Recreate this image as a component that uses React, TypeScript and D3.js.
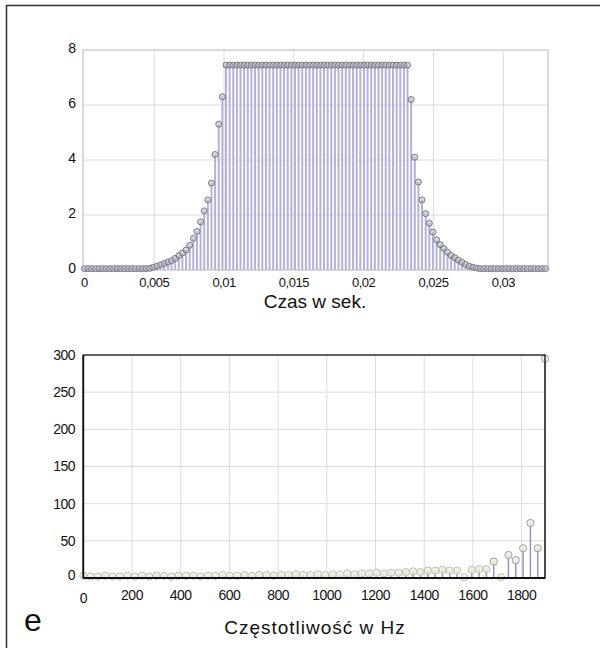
import React from "react";
import * as d3 from "d3";

// ---- Top chart data: sampled signal (time step in seconds) ----
const sampleStep = 0.00026;
const signal: number[] = [
  0.05, 0.05, 0.05, 0.05, 0.05, 0.05, 0.05, 0.05, 0.05, 0.05,
  0.05, 0.05, 0.05, 0.05, 0.05, 0.05, 0.05, 0.05, 0.06, 0.1,
  0.14, 0.19, 0.24, 0.29, 0.34, 0.42, 0.52, 0.62, 0.73, 0.9,
  1.15, 1.4, 1.75, 2.15, 2.55, 3.16, 4.2, 5.3, 6.3, 7.45,
  7.45, 7.45, 7.45, 7.45, 7.45, 7.45, 7.45, 7.45, 7.45, 7.45,
  7.45, 7.45, 7.45, 7.45, 7.45, 7.45, 7.45, 7.45, 7.45, 7.45,
  7.45, 7.45, 7.45, 7.45, 7.45, 7.45, 7.45, 7.45, 7.45, 7.45,
  7.45, 7.45, 7.45, 7.45, 7.45, 7.45, 7.45, 7.45, 7.45, 7.45,
  7.45, 7.45, 7.45, 7.45, 7.45, 7.45, 7.45, 7.45, 7.45, 7.45,
  6.2, 4.1, 3.2, 2.55, 2.05, 1.7, 1.38, 1.1, 0.92, 0.78,
  0.65, 0.53, 0.45, 0.36, 0.28, 0.2, 0.14, 0.1, 0.07, 0.05,
  0.05, 0.05, 0.05, 0.05, 0.05, 0.05, 0.05, 0.05, 0.05, 0.05,
  0.05, 0.05, 0.05, 0.05, 0.05, 0.05, 0.05, 0.05,
];
const timeTicks = [0, 0.005, 0.01, 0.015, 0.02, 0.025, 0.03];
const timeTickLabels = ["0", "0,005", "0,01", "0,015", "0,02", "0,025", "0,03"];
const ampTicks = [0, 2, 4, 6, 8];

// ---- Bottom chart data: spectrum (frequency step in Hz) ----
const freqStep = 30.1;
const spectrum: number[] = [
  3, 2, 2, 3, 2, 2, 3, 2, 3, 2,
  3, 3, 2, 3, 3, 3, 2, 3, 3, 4,
  3, 3, 4, 3, 4, 4, 3, 4, 4, 5,
  4, 4, 5, 4, 5, 5, 6, 5, 6, 6,
  7, 6, 7, 7, 8, 9, 8, 10, 10, 11,
  10, 10, 1, 11, 12, 12, 22, 1, 31, 24,
  40, 74, 40, 295,
];
const freqTicks = [0, 200, 400, 600, 800, 1000, 1200, 1400, 1600, 1800];
const magTicks = [0, 50, 100, 150, 200, 250, 300];

const FONT = "'Liberation Sans', Arial, sans-serif";

export default function App() {
  const xT = d3.scaleLinear().domain([-0.0001, 0.0332]).range([83, 548]);
  const yT = d3.scaleLinear().domain([0, 8]).range([270, 50]);
  const xB = d3.scaleLinear().domain([0, 1896]).range([83.3, 545]);
  const yB = d3.scaleLinear().domain([0, 300]).range([578, 355]);

  const grid = "#dcdcdc";

  return (
    <svg
      width={600}
      height={648}
      style={{ position: "absolute", left: 0, top: 0, background: "#fff" }}
      fontFamily={FONT}
    >
      <rect x={0} y={0} width={600} height={648} fill="#fff" />
      <line x1={6} y1={5.5} x2={600} y2={5.5} stroke="#333" strokeWidth={1.5} />
      <line x1={6.5} y1={5} x2={6.5} y2={648} stroke="#333" strokeWidth={1.5} />

      {/* ---------- TOP CHART ---------- */}
      <g>
        {timeTicks.slice(1).map((t) => (
          <line key={"tv" + t} x1={xT(t)} x2={xT(t)} y1={50} y2={270} stroke={grid} strokeWidth={1} />
        ))}
        {ampTicks.slice(1, -1).map((v) => (
          <line key={"th" + v} x1={83} x2={548} y1={yT(v)} y2={yT(v)} stroke={grid} strokeWidth={1} />
        ))}
        <rect x={83} y={50} width={465} height={220} fill="none" stroke="#b8b8b8" strokeWidth={1} />
        {signal.map((v, i) => (
          <line
            key={"ts" + i}
            x1={xT(i * sampleStep)}
            x2={xT(i * sampleStep)}
            y1={yT(0)}
            y2={yT(v)}
            stroke="#b2b2dc"
            strokeWidth={2}
          />
        ))}
        {signal.map((v, i) => (
          <circle
            key={"tc" + i}
            cx={xT(i * sampleStep)}
            cy={yT(v)}
            r={3}
            fill="#b8b8c4"
            fillOpacity={0.55}
            stroke="#6e6e7a"
            strokeWidth={0.9}
          />
        ))}
        {ampTicks.map((v) => (
          <text key={"tyl" + v} x={76} y={yT(v) - 2} dy="0.35em" textAnchor="end" fontSize={14} fill="#111">
            {v}
          </text>
        ))}
        {timeTicks.map((t, i) => (
          <text key={"txl" + t} x={xT(t)} y={287} textAnchor="middle" fontSize={13} letterSpacing={-0.5} fill="#111">
            {timeTickLabels[i]}
          </text>
        ))}
        <text x={315} y={308} textAnchor="middle" fontSize={19} fill="#111">
          Czas w sek.
        </text>
      </g>

      {/* ---------- BOTTOM CHART ---------- */}
      <g>
        {freqTicks.slice(1).map((f) => (
          <line key={"bv" + f} x1={xB(f)} x2={xB(f)} y1={355} y2={578} stroke={grid} strokeWidth={1} />
        ))}
        {magTicks.slice(1, -1).map((v) => (
          <line key={"bh" + v} x1={83} x2={545} y1={yB(v)} y2={yB(v)} stroke={grid} strokeWidth={1} />
        ))}
        {spectrum.map((v, i) => (
          <line
            key={"bs" + i}
            x1={xB(i * freqStep)}
            x2={xB(i * freqStep)}
            y1={yB(0)}
            y2={yB(v)}
            stroke="#8e8ec4"
            strokeWidth={1.4}
          />
        ))}
        {spectrum.map((v, i) => (
          <circle
            key={"bc" + i}
            cx={xB(i * freqStep)}
            cy={yB(v)}
            r={3.6}
            fill="#efecdc"
            fillOpacity={0.8}
            stroke={v < 15 ? "#c2c0b4" : "#a0a0a0"}
            strokeWidth={1}
          />
        ))}
        <rect x={83.3} y={355} width={461.7} height={223} fill="none" stroke="#111" strokeWidth={1.3} />
        <line x1={83.3} x2={545} y1={578} y2={578} stroke="#111" strokeWidth={2} />
        <line x1={83.3} x2={83.3} y1={355} y2={578} stroke="#111" strokeWidth={1.8} />
        {magTicks.map((v) => (
          <text key={"byl" + v} x={75} y={yB(v) - (v === 0 ? 3 : 0)} dy="0.35em" textAnchor="end" fontSize={14} letterSpacing={-0.5} fill="#111">
            {v}
          </text>
        ))}
        {freqTicks.map((f) => (
          <text
            key={"bxl" + f}
            x={xB(f)}
            y={f === 0 ? 603 : 600}
            textAnchor="middle"
            fontSize={14}
            letterSpacing={-0.5}
            fill="#111"
          >
            {f}
          </text>
        ))}
        <text x={315} y={634} textAnchor="middle" fontSize={19} letterSpacing={1} fill="#111">
          Częstotliwość w Hz
        </text>
        <text x={24} y={631} fontSize={32} fill="#111">
          e
        </text>
      </g>
    </svg>
  );
}
